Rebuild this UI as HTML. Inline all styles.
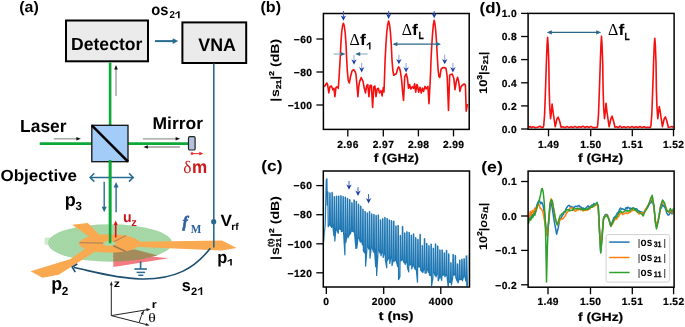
<!DOCTYPE html>
<html><head><meta charset="utf-8"><style>
html,body{margin:0;padding:0;background:#fff;width:685px;height:327px;overflow:hidden;}
svg{display:block;will-change:transform;}
text{text-rendering:geometricPrecision;}
</style></head><body>
<svg width="685" height="327" viewBox="0 0 685 327">
<text x="19.3" y="11.6" font-family='"Liberation Sans", sans-serif' font-size="15.2" font-weight="bold" font-style="normal" fill="#000" text-anchor="start" textLength="19.5" lengthAdjust="spacingAndGlyphs" >(a)</text>
<rect x="66" y="20.5" width="82" height="40.8" fill="#ebebeb" stroke="#000" stroke-width="2"/>
<text x="71.1" y="49.6" font-family='"Liberation Sans", sans-serif' font-size="17.6" font-weight="bold" font-style="normal" fill="#000" text-anchor="start" textLength="71.2" lengthAdjust="spacingAndGlyphs" >Detector</text>
<rect x="182.4" y="22.4" width="63.8" height="40.6" fill="#ebebeb" stroke="#000" stroke-width="2"/>
<text x="198.3" y="50.7" font-family='"Liberation Sans", sans-serif' font-size="18" font-weight="bold" font-style="normal" fill="#000" text-anchor="start" textLength="37.6" lengthAdjust="spacingAndGlyphs" >VNA</text>
<text x="151.3" y="15.2" font-family='"Liberation Sans", sans-serif' font-size="15.6" font-weight="bold" font-style="normal" fill="#000" text-anchor="start" textLength="17.2" lengthAdjust="spacingAndGlyphs" >os</text>
<text x="169.4" y="18.3" font-family='"Liberation Sans", sans-serif' font-size="10.2" font-weight="bold" font-style="normal" fill="#000" text-anchor="start" textLength="5.4" lengthAdjust="spacingAndGlyphs" >2</text>
<polygon points="178.06,18.30 179.60,18.30 179.60,11.20 178.47,11.20 175.30,13.34 175.30,14.53 178.06,12.85" fill="#000"/>
<line x1="155" y1="41.1" x2="174.35" y2="41.1" stroke="#276b91" stroke-width="2" />
<polygon points="178.20,41.10 172.70,43.90 172.70,38.30" fill="#276b91"/>
<line x1="110.1" y1="62.5" x2="110.1" y2="125" stroke="#0ca83a" stroke-width="2.6" />
<line x1="110.1" y1="162" x2="110.1" y2="243" stroke="#0ca83a" stroke-width="2.6" />
<line x1="116" y1="96" x2="116.0" y2="68.15" stroke="#9a9a9a" stroke-width="1.3" />
<polygon points="116.00,65.00 117.80,69.50 114.20,69.50" fill="#111"/>
<line x1="39.7" y1="143.65" x2="92" y2="143.65" stroke="#0ca83a" stroke-width="2.7" />
<line x1="128" y1="143.65" x2="188.5" y2="143.65" stroke="#0ca83a" stroke-width="2.7" />
<rect x="91.8" y="125.3" width="36.2" height="36.4" fill="#a3cdf8" stroke="#111" stroke-width="1.3"/>
<line x1="91.8" y1="125.3" x2="128" y2="161.7" stroke="#000" stroke-width="2.6" />
<line x1="53.8" y1="138.8" x2="77.75" y2="138.8" stroke="#9a9a9a" stroke-width="1.3" />
<polygon points="80.90,138.80 76.40,140.60 76.40,137.00" fill="#111"/>
<line x1="143" y1="138.8" x2="176.95" y2="138.8" stroke="#9a9a9a" stroke-width="1.3" />
<polygon points="180.10,138.80 175.60,140.60 175.60,137.00" fill="#111"/>
<line x1="180.1" y1="147" x2="146.55" y2="147.0" stroke="#9a9a9a" stroke-width="1.3" />
<polygon points="143.40,147.00 147.90,145.20 147.90,148.80" fill="#111"/>
<rect x="188.5" y="136.7" width="6.6" height="13.3" rx="1.3" fill="#b3c3dd" stroke="#222" stroke-width="1.2"/>
<text x="20.1" y="132.4" font-family='"Liberation Sans", sans-serif' font-size="17.6" font-weight="bold" font-style="normal" fill="#000" text-anchor="start" textLength="46.5" lengthAdjust="spacingAndGlyphs" >Laser</text>
<text x="152.5" y="128.9" font-family='"Liberation Sans", sans-serif' font-size="17.2" font-weight="bold" font-style="normal" fill="#000" text-anchor="start" textLength="50.5" lengthAdjust="spacingAndGlyphs" >Mirror</text>
<text x="183.3" y="172.6" font-family='"Liberation Serif", serif' font-size="17.5" font-weight="normal" font-style="normal" fill="#cc1a1a" text-anchor="start" textLength="8.2" lengthAdjust="spacingAndGlyphs" >&#948;</text>
<text x="191.9" y="172.5" font-family='"Liberation Sans", sans-serif' font-size="18" font-weight="bold" font-style="normal" fill="#cc1a1a" text-anchor="start" textLength="15.2" lengthAdjust="spacingAndGlyphs" >m</text>
<line x1="192" y1="153.6" x2="200.5" y2="153.6" stroke="#ec2a2a" stroke-width="1.0" />
<polygon points="203.30,153.60 199.30,155.40 199.30,151.80" fill="#ec2a2a"/>
<circle cx="192" cy="153.6" r="1.4" fill="#ec2a2a"/>
<circle cx="213.7" cy="221.7" r="2.6" fill="#276b91"/>
<text x="220.5" y="226.2" font-family='"Liberation Sans", sans-serif' font-size="16.5" font-weight="bold" font-style="normal" fill="#000" text-anchor="start" textLength="11.5" lengthAdjust="spacingAndGlyphs" >V</text>
<text x="231.2" y="229.6" font-family='"Liberation Sans", sans-serif' font-size="10" font-weight="bold" font-style="normal" fill="#000" text-anchor="start" textLength="7.4" lengthAdjust="spacingAndGlyphs" >rf</text>
<text x="182.6" y="227.4" font-family='"Liberation Serif", serif' font-size="15.8" font-weight="bold" font-style="italic" fill="#2b5fa0" text-anchor="start" stroke="#2b5fa0" stroke-width="0.6">f</text>
<text x="190.7" y="233.1" font-family='"Liberation Serif", serif' font-size="12.4" font-weight="bold" font-style="normal" fill="#2b5fa0" text-anchor="start" textLength="10.6" lengthAdjust="spacingAndGlyphs" >M</text>
<text x="0.5" y="180.6" font-family='"Liberation Sans", sans-serif' font-size="16.3" font-weight="bold" font-style="normal" fill="#000" text-anchor="start" textLength="76.6" lengthAdjust="spacingAndGlyphs" >Objective</text>
<line x1="90.3" y1="177.4" x2="133" y2="177.4" stroke="#276b91" stroke-width="1.5" />
<polyline points="94.30,173.20 90.1,177.4 94.30,181.60" fill="none" stroke="#276b91" stroke-width="1.5"/>
<polyline points="129.00,181.60 133.2,177.4 129.00,173.20" fill="none" stroke="#276b91" stroke-width="1.5"/>
<line x1="104.2" y1="181.7" x2="104.2" y2="208.45000000000002" stroke="#276b91" stroke-width="1.4" />
<polygon points="104.20,212.30 101.70,206.80 106.70,206.80" fill="#276b91"/>
<line x1="116.1" y1="212.3" x2="116.1" y2="185.85" stroke="#276b91" stroke-width="1.4" />
<polygon points="116.10,182.00 118.60,187.50 113.60,187.50" fill="#276b91"/>
<text x="64.8" y="206" font-family='"Liberation Sans", sans-serif' font-size="18.5" font-weight="bold" font-style="normal" fill="#000" text-anchor="start" textLength="11" lengthAdjust="spacingAndGlyphs" >p</text>
<text x="75.6" y="210.2" font-family='"Liberation Sans", sans-serif' font-size="12" font-weight="bold" font-style="normal" fill="#000" text-anchor="start" textLength="6.4" lengthAdjust="spacingAndGlyphs" >3</text>
<defs><clipPath id="ell"><ellipse cx="110" cy="243" rx="62" ry="18.8"/></clipPath></defs>
<pattern id="hatch" patternUnits="userSpaceOnUse" width="2.4" height="2.4" patternTransform="rotate(-35)"><rect width="2.4" height="2.4" fill="#a8d9a8"/><rect width="0.8" height="2.4" fill="#a0d3a1"/></pattern>
<rect x="44.5" y="237.5" width="8" height="7.5" rx="2" fill="#cfeacf"/>
<ellipse cx="110" cy="243" rx="62" ry="18.8" fill="url(#hatch)"/>
<polygon points="72.2,224.8 87.8,223 99.5,235 91,238" fill="#f9a94f"/>
<polygon points="30.6,271.2 42.4,277.8 58.8,274.7 96,251 86,248 70.6,259" fill="#f9a94f"/>
<polygon points="139,241.8 222,240.6 236.7,248 222,250.6 139,247" fill="#f9a94f"/>
<polygon points="113.4,252.6 168.7,258.3 113.4,267" fill="#f27a80"/>
<polygon points="113.4,250 135,249.5 168.7,258.3 113.4,267" fill="#a38b5c" clip-path="url(#ell)"/>
<ellipse cx="109.5" cy="243.4" rx="30.5" ry="9.2" fill="#f9a94f"/>
<line x1="79.5" y1="242.6" x2="105" y2="243.2" stroke="#b8865a" stroke-width="1.2" />
<line x1="114" y1="241.6" x2="126" y2="235.5" stroke="#b8865a" stroke-width="1.2" />
<line x1="113" y1="245.5" x2="125.6" y2="251.5" stroke="#9c7a52" stroke-width="1.5" />
<ellipse cx="109.4" cy="243.5" rx="6.4" ry="2.5" fill="#a9d9a3"/>
<line x1="110.1" y1="160" x2="110.1" y2="243.2" stroke="#0ca83a" stroke-width="2.6" />
<line x1="115.7" y1="237.5" x2="115.7" y2="223.65" stroke="#e01010" stroke-width="1.6" />
<polygon points="115.70,220.50 117.70,225.00 113.70,225.00" fill="#e01010"/>
<text x="123" y="222.1" font-family='"Liberation Sans", sans-serif' font-size="14.6" font-weight="bold" font-style="normal" fill="#c8161d" text-anchor="start" textLength="8.6" lengthAdjust="spacingAndGlyphs" >u</text>
<text x="131.3" y="226.3" font-family='"Liberation Sans", sans-serif' font-size="11" font-weight="bold" font-style="normal" fill="#c8161d" text-anchor="start" textLength="5.6" lengthAdjust="spacingAndGlyphs" >z</text>
<line x1="140.6" y1="261.5" x2="140.6" y2="269" stroke="#276b91" stroke-width="1.6" />
<line x1="134.4" y1="269" x2="146.9" y2="269" stroke="#276b91" stroke-width="1.6" />
<line x1="136.6" y1="272.4" x2="145.1" y2="272.4" stroke="#276b91" stroke-width="1.5" />
<line x1="138.3" y1="275.3" x2="143.4" y2="275.3" stroke="#276b91" stroke-width="1.5" />
<line x1="213.8" y1="63.5" x2="213.8" y2="247.5" stroke="#276b91" stroke-width="1.6" />
<path d="M210.3,248.2 C195,268 175,280 140,279 C115,278 95,272 74,267.5" fill="none" stroke="#1d4f6f" stroke-width="1.6"/>
<polyline points="77.29,263.94 72.2,267 75.26,272.09" fill="none" stroke="#1d4f6f" stroke-width="1.6"/>
<text x="217.2" y="262.5" font-family='"Liberation Sans", sans-serif' font-size="17" font-weight="bold" font-style="normal" fill="#000" text-anchor="start" textLength="10" lengthAdjust="spacingAndGlyphs" >p</text>
<polygon points="230.26,265.40 231.80,265.40 231.80,258.90 230.67,258.90 227.50,260.86 227.50,261.95 230.26,260.41" fill="#000"/>
<text x="51.3" y="290.3" font-family='"Liberation Sans", sans-serif' font-size="18.5" font-weight="bold" font-style="normal" fill="#000" text-anchor="start" textLength="10.9" lengthAdjust="spacingAndGlyphs" >p</text>
<text x="61.7" y="294.5" font-family='"Liberation Sans", sans-serif' font-size="11.7" font-weight="bold" font-style="normal" fill="#000" text-anchor="start" textLength="6.6" lengthAdjust="spacingAndGlyphs" >2</text>
<text x="181.7" y="290.5" font-family='"Liberation Sans", sans-serif' font-size="16.5" font-weight="bold" font-style="normal" fill="#000" text-anchor="start" textLength="9" lengthAdjust="spacingAndGlyphs" >s</text>
<text x="191" y="294.9" font-family='"Liberation Sans", sans-serif' font-size="10.6" font-weight="bold" font-style="normal" fill="#000" text-anchor="start" textLength="6.2" lengthAdjust="spacingAndGlyphs" >2</text>
<polygon points="200.66,294.90 202.20,294.90 202.20,287.30 201.07,287.30 197.90,289.59 197.90,290.87 200.66,289.06" fill="#000"/>
<line x1="111.3" y1="315.6" x2="111.3" y2="284.1" stroke="#222" stroke-width="1.0" />
<polygon points="111.30,281.30 112.80,285.30 109.80,285.30" fill="#222"/>
<line x1="111.3" y1="315.6" x2="147.7365879338281" y2="309.65116931692603" stroke="#222" stroke-width="1.0" />
<polygon points="150.50,309.20 146.79,311.32 146.31,308.36" fill="#222"/>
<line x1="111.3" y1="315.6" x2="146.98695836156662" y2="324.70760916519146" stroke="#222" stroke-width="1.0" />
<polygon points="149.70,325.40 145.45,325.86 146.20,322.96" fill="#222"/>
<path d="M139.2,322.3 Q141,316 143.6,311" fill="none" stroke="#222" stroke-width="1"/>
<polygon points="143.60,311.00 143.38,314.80 140.69,313.46" fill="#222"/>
<text x="113.8" y="286.6" font-family='"Liberation Sans", sans-serif' font-size="10.5" font-weight="bold" font-style="normal" fill="#000" text-anchor="start" textLength="6.2" lengthAdjust="spacingAndGlyphs" >z</text>
<text x="151.7" y="307.6" font-family='"Liberation Sans", sans-serif' font-size="11" font-weight="bold" font-style="normal" fill="#000" text-anchor="start" textLength="5" lengthAdjust="spacingAndGlyphs" >r</text>
<text x="148.3" y="322.2" font-family='"Liberation Serif", serif' font-size="13" font-weight="normal" font-style="normal" fill="#000" text-anchor="start" textLength="7.5" lengthAdjust="spacingAndGlyphs" >&#952;</text>
<text x="260.5" y="11.7" font-family='"Liberation Sans", sans-serif' font-size="15.2" font-weight="bold" font-style="normal" fill="#000" text-anchor="start" textLength="20.6" lengthAdjust="spacingAndGlyphs" >(b)</text>
<polyline points="324.20,86.80 325.30,85.20 326.80,83.00 327.60,84.50 328.80,92.90 329.90,86.80 331.40,86.00 332.90,89.80 334.00,88.30 334.90,96.70 336.00,87.50 337.00,86.80 338.30,88.30 339.00,78.30 339.60,68.00 340.10,60.00 340.90,43.60 341.60,33.00 342.50,26.00 343.40,23.20 344.30,26.00 345.20,33.00 346.00,43.60 346.70,60.00 347.40,72.00 348.20,79.90 349.30,83.00 350.50,76.80 352.00,71.00 353.60,69.50 355.00,71.50 355.90,73.80 356.90,85.00 357.90,96.70 358.80,86.00 359.70,81.40 361.20,77.60 363.00,81.40 364.30,88.30 365.50,92.90 366.60,86.00 367.80,84.50 368.90,96.70 370.10,85.20 371.40,85.20 372.60,107.40 373.80,86.80 374.90,86.00 376.00,96.70 377.20,89.00 378.40,88.30 379.50,92.90 381.00,90.60 382.10,95.90 383.30,87.50 384.00,92.00 384.60,75.00 385.10,60.00 385.90,45.00 386.70,33.00 387.60,25.00 388.60,21.00 389.60,25.00 390.50,33.00 391.30,45.00 392.00,60.00 392.80,70.00 393.70,75.30 394.80,74.50 396.30,73.80 397.50,69.00 398.60,66.90 399.60,68.50 400.40,71.50 401.60,79.90 402.60,92.00 403.50,100.50 404.20,88.00 404.70,76.80 406.20,73.80 407.40,78.30 408.50,88.30 409.60,84.50 410.80,89.00 412.30,86.80 413.60,88.30 414.60,83.70 415.70,92.10 416.90,84.50 417.50,85.60 418.60,92.20 420.00,87.20 421.30,93.00 422.40,88.10 423.60,91.40 424.90,86.40 426.20,88.90 427.90,86.40 429.00,103.80 429.90,86.40 430.50,75.00 431.00,60.00 431.80,45.00 432.60,33.00 433.30,25.00 434.20,20.20 435.10,25.00 435.90,33.00 436.70,45.00 437.50,60.00 438.10,70.00 438.90,76.50 439.80,77.30 441.10,69.10 442.50,67.80 443.90,67.40 446.00,68.30 447.20,76.50 447.90,95.00 448.50,110.40 449.10,92.00 449.70,74.90 452.20,74.00 453.80,78.20 455.00,89.70 456.30,81.50 457.60,77.30 458.80,82.30 459.90,91.40 461.20,86.40 462.90,84.80 464.20,84.00 465.40,84.80 466.20,111.20 467.50,104.00" fill="none" stroke="#f50f0f" stroke-width="1.6" stroke-linejoin="round" />
<rect x="323.4" y="13.5" width="145.8" height="115.9" fill="none" stroke="#000" stroke-width="1.5"/>
<line x1="316.4" y1="39" x2="323.4" y2="39" stroke="#000" stroke-width="1.3" />
<text x="293.66" y="42.75" font-family='"Liberation Sans", sans-serif' font-size="10.25" font-weight="bold" font-style="normal" fill="#000" text-anchor="start" textLength="18.34" lengthAdjust="spacing" stroke="#000" stroke-width="0.22">&#8722;60</text>
<line x1="316.4" y1="72" x2="323.4" y2="72" stroke="#000" stroke-width="1.3" />
<text x="293.66" y="75.75" font-family='"Liberation Sans", sans-serif' font-size="10.25" font-weight="bold" font-style="normal" fill="#000" text-anchor="start" textLength="18.34" lengthAdjust="spacing" stroke="#000" stroke-width="0.22">&#8722;80</text>
<line x1="316.4" y1="105" x2="323.4" y2="105" stroke="#000" stroke-width="1.3" />
<text x="287.64" y="108.75" font-family='"Liberation Sans", sans-serif' font-size="10.25" font-weight="bold" font-style="normal" fill="#000" text-anchor="start" textLength="24.36" lengthAdjust="spacing" stroke="#000" stroke-width="0.22">&#8722;100</text>
<line x1="347.8" y1="129.4" x2="347.8" y2="136.4" stroke="#000" stroke-width="1.3" />
<text x="337.28" y="147.70000000000002" font-family='"Liberation Sans", sans-serif' font-size="10.25" font-weight="bold" font-style="normal" fill="#000" text-anchor="start" textLength="21.05" lengthAdjust="spacing" stroke="#000" stroke-width="0.22">2.96</text>
<line x1="383.3" y1="129.4" x2="383.3" y2="136.4" stroke="#000" stroke-width="1.3" />
<text x="372.78" y="147.70000000000002" font-family='"Liberation Sans", sans-serif' font-size="10.25" font-weight="bold" font-style="normal" fill="#000" text-anchor="start" textLength="21.05" lengthAdjust="spacing" stroke="#000" stroke-width="0.22">2.97</text>
<line x1="418.4" y1="129.4" x2="418.4" y2="136.4" stroke="#000" stroke-width="1.3" />
<text x="407.88" y="147.70000000000002" font-family='"Liberation Sans", sans-serif' font-size="10.25" font-weight="bold" font-style="normal" fill="#000" text-anchor="start" textLength="21.05" lengthAdjust="spacing" stroke="#000" stroke-width="0.22">2.98</text>
<line x1="453.5" y1="129.4" x2="453.5" y2="136.4" stroke="#000" stroke-width="1.3" />
<text x="442.98" y="147.70000000000002" font-family='"Liberation Sans", sans-serif' font-size="10.25" font-weight="bold" font-style="normal" fill="#000" text-anchor="start" textLength="21.05" lengthAdjust="spacing" stroke="#000" stroke-width="0.22">2.99</text>
<text x="373.69" y="162.3" font-family='"Liberation Sans", sans-serif' font-size="12" font-weight="bold" font-style="normal" fill="#000" text-anchor="start" textLength="45.22" lengthAdjust="spacingAndGlyphs" stroke="#000" stroke-width="0.22">f (GHz)</text>
<g transform="translate(278.8,70.3) rotate(-90) scale(1.2,1)">
<text x="0" y="0" font-family='"Liberation Sans", sans-serif' font-size="11.8" font-weight="bold" font-style="normal" fill="#000" text-anchor="middle" >|<tspan dx="0.8">s</tspan><tspan font-size="7" dy="2.4" stroke="#000" stroke-width="0.3">21</tspan><tspan dy="-2.4">|</tspan><tspan font-size="7" dy="-5.2" stroke="#000" stroke-width="0.3">2</tspan><tspan dy="5.2"> (dB)</tspan></text>
</g>
<line x1="343.4" y1="11" x2="343.4" y2="17.02" stroke="#3a5cb8" stroke-width="1.0" />
<polygon points="343.40,20.80 340.70,15.40 343.40,17.02 346.10,15.40" fill="#1b3fa6"/>
<line x1="388.6" y1="11" x2="388.6" y2="15.22" stroke="#3a5cb8" stroke-width="1.0" />
<polygon points="388.60,19.00 385.90,13.60 388.60,15.22 391.30,13.60" fill="#1b3fa6"/>
<line x1="434.2" y1="11" x2="434.2" y2="14.520000000000001" stroke="#3a5cb8" stroke-width="1.0" />
<polygon points="434.20,18.30 431.50,12.90 434.20,14.52 436.90,12.90" fill="#1b3fa6"/>
<line x1="354" y1="55.1" x2="354.0" y2="60.92" stroke="#8fa3d6" stroke-width="1.0" />
<polygon points="354.00,64.70 351.30,59.30 354.00,60.92 356.70,59.30" fill="#1b3fa6"/>
<line x1="361.7" y1="62.9" x2="361.7" y2="68.72" stroke="#8fa3d6" stroke-width="1.0" />
<polygon points="361.70,72.50 359.00,67.10 361.70,68.72 364.40,67.10" fill="#1b3fa6"/>
<line x1="398.9" y1="54.7" x2="398.9" y2="60.519999999999996" stroke="#8fa3d6" stroke-width="1.0" />
<polygon points="398.90,64.30 396.20,58.90 398.90,60.52 401.60,58.90" fill="#1b3fa6"/>
<line x1="406.1" y1="62.9" x2="406.1" y2="68.72" stroke="#8fa3d6" stroke-width="1.0" />
<polygon points="406.10,72.50 403.40,67.10 406.10,68.72 408.80,67.10" fill="#1b3fa6"/>
<line x1="444.7" y1="54.7" x2="444.7" y2="60.519999999999996" stroke="#8fa3d6" stroke-width="1.0" />
<polygon points="444.70,64.30 442.00,58.90 444.70,60.52 447.40,58.90" fill="#1b3fa6"/>
<line x1="452.9" y1="63" x2="452.9" y2="68.72" stroke="#8fa3d6" stroke-width="1.0" />
<polygon points="452.90,72.50 450.20,67.10 452.90,68.72 455.60,67.10" fill="#1b3fa6"/>
<line x1="333.7" y1="54" x2="342.1" y2="54.0" stroke="#93b2c4" stroke-width="1.2" />
<polygon points="345.60,54.00 340.60,56.10 340.60,51.90" fill="#2a6788"/>
<line x1="367.6" y1="54" x2="358.7" y2="54.0" stroke="#93b2c4" stroke-width="1.2" />
<polygon points="355.20,54.00 360.20,51.90 360.20,56.10" fill="#2a6788"/>
<text x="349.6" y="45.2" font-family='"Liberation Serif", serif' font-size="16.8" font-weight="normal" font-style="normal" fill="#000" text-anchor="start" textLength="10.3" lengthAdjust="spacingAndGlyphs" >&#916;</text>
<text x="360" y="45.2" font-family='"Liberation Sans", sans-serif' font-size="15.5" font-weight="bold" font-style="normal" fill="#000" text-anchor="start" textLength="5.9" lengthAdjust="spacingAndGlyphs" >f</text>
<polygon points="369.14,49.50 370.50,49.50 370.50,42.20 369.50,42.20 366.70,44.40 366.70,45.63 369.14,43.89" fill="#000"/>
<line x1="394" y1="44.2" x2="439.5" y2="44.2" stroke="#2a6788" stroke-width="1.3" />
<polygon points="392.40,44.20 397.40,42.10 397.40,46.30" fill="#2a6788"/>
<polygon points="441.00,44.20 436.00,46.30 436.00,42.10" fill="#2a6788"/>
<text x="401.7" y="34.8" font-family='"Liberation Serif", serif' font-size="16.8" font-weight="normal" font-style="normal" fill="#000" text-anchor="start" textLength="10.3" lengthAdjust="spacingAndGlyphs" >&#916;</text>
<text x="412.1" y="34.8" font-family='"Liberation Sans", sans-serif' font-size="15.5" font-weight="bold" font-style="normal" fill="#000" text-anchor="start" textLength="5.9" lengthAdjust="spacingAndGlyphs" >f</text>
<text x="418.4" y="38.8" font-family='"Liberation Sans", sans-serif' font-size="10.2" font-weight="bold" font-style="normal" fill="#000" text-anchor="start" textLength="5.2" lengthAdjust="spacingAndGlyphs" stroke="#000" stroke-width="0.3">L</text>
<text x="261.3" y="170.5" font-family='"Liberation Sans", sans-serif' font-size="15.2" font-weight="bold" font-style="normal" fill="#000" text-anchor="start" textLength="21.2" lengthAdjust="spacingAndGlyphs" >(c)</text>
<clipPath id="cclip"><rect x="324.2" y="171.5" width="144" height="115"/></clipPath>
<polyline points="323.60,242.00 325.20,224.00 326.30,180.00 326.90,178.70 327.30,205.00 327.60,191.72 327.90,192.12 328.20,226.67 329.50,224.70 329.80,192.82 330.10,193.22 330.40,225.10 331.70,227.33 332.00,192.41 332.30,192.81 332.60,223.48 333.90,235.68 334.20,196.52 334.50,196.92 334.80,241.00 336.10,226.96 336.40,196.03 336.70,196.43 337.00,230.18 338.30,233.32 338.60,196.08 338.90,196.48 339.20,228.95 340.50,229.39 340.80,195.55 341.10,195.95 341.40,231.62 342.70,230.98 343.00,196.54 343.30,196.94 343.60,232.80 344.90,254.82 345.20,197.14 345.50,197.54 345.80,242.56 347.10,233.39 347.40,198.40 347.70,198.80 348.00,237.85 349.30,234.72 349.60,199.57 349.90,199.97 350.20,234.00 351.50,230.56 351.80,202.71 352.10,203.11 352.40,231.27 353.70,231.96 354.00,199.84 354.30,200.24 354.60,233.51 355.90,248.38 356.20,201.46 356.50,201.86 356.80,248.17 358.10,236.56 358.40,204.21 358.70,204.61 359.00,237.56 360.30,242.16 360.60,206.13 360.90,206.53 361.20,239.61 362.50,244.94 362.80,209.14 363.10,209.54 363.40,250.84 364.70,252.83 365.00,211.35 365.30,211.75 365.60,266.04 366.90,249.47 367.20,212.97 367.50,213.37 367.80,246.33 369.10,249.45 369.40,211.51 369.70,211.91 370.00,258.19 371.30,246.79 371.60,213.97 371.90,214.37 372.20,247.37 373.50,252.09 373.80,214.46 374.10,214.86 374.40,247.84 375.70,266.74 376.00,215.45 376.30,215.85 376.60,275.44 377.90,254.64 378.20,214.93 378.50,215.33 378.80,249.67 380.10,253.22 380.40,219.84 380.70,220.24 381.00,255.79 382.30,250.96 382.60,218.71 382.90,219.11 383.20,257.48 384.50,252.49 384.80,217.38 385.10,217.78 385.40,260.08 386.70,267.75 387.00,218.48 387.30,218.88 387.60,260.32 388.90,257.58 389.20,219.95 389.50,220.35 389.80,263.43 391.10,256.15 391.40,220.71 391.70,221.11 392.00,265.53 393.30,259.76 393.60,221.18 393.90,221.58 394.20,261.18 395.50,260.31 395.80,226.00 396.10,226.40 396.40,261.29 397.70,266.71 398.00,225.33 398.30,225.73 398.60,279.57 399.90,276.75 400.20,235.29 400.50,235.69 400.80,260.99 402.10,259.05 402.40,226.30 402.70,226.70 403.00,260.46 404.30,262.88 404.60,232.87 404.90,233.27 405.20,264.54 406.50,261.53 406.80,231.70 407.10,232.10 407.40,267.06 408.70,271.92 409.00,232.26 409.30,232.66 409.60,265.17 410.90,264.17 411.20,235.02 411.50,235.42 411.80,268.92 413.10,263.92 413.40,233.83 413.70,234.23 414.00,266.51 415.30,269.40 415.60,237.69 415.90,238.09 416.20,268.23 417.50,282.07 417.80,239.26 418.10,239.66 418.40,266.90 419.70,266.97 420.00,234.28 420.30,234.68 420.60,270.05 421.90,271.70 422.20,245.50 422.50,245.90 422.80,272.69 424.10,267.98 424.40,238.56 424.70,238.96 425.00,273.08 426.30,272.90 426.60,243.42 426.90,243.82 427.20,268.76 428.50,272.46 428.80,245.69 429.10,246.09 429.40,274.97 430.70,275.61 431.00,244.05 431.30,244.45 431.60,285.74 432.90,277.79 433.20,248.10 433.50,248.50 433.80,271.63 435.10,275.54 435.40,243.98 435.70,244.38 436.00,276.84 437.30,272.92 437.60,246.00 437.90,246.40 438.20,280.65 439.50,277.61 439.80,249.88 440.10,250.28 440.40,276.43 441.70,280.39 442.00,249.77 442.30,250.17 442.60,275.57 443.90,274.58 444.20,252.83 444.50,253.23 444.80,276.73 446.10,274.95 446.40,250.32 446.70,250.72 447.00,275.91 448.30,287.50 448.60,253.94 448.90,254.34 449.20,282.34 450.50,282.34 450.80,262.71 451.10,263.11 451.40,284.92 452.70,277.39 453.00,254.39 453.30,254.79 453.60,275.19 454.90,274.78 455.20,255.47 455.50,255.87 455.80,277.34 457.10,281.17 457.40,263.82 457.70,264.22 458.00,282.91 459.30,278.65 459.60,260.06 459.90,260.46 460.20,279.52 461.50,279.29 461.80,259.22 462.10,259.62 462.40,280.77 463.70,275.89 464.00,258.64 464.30,259.04 464.60,275.40 465.90,281.08 466.20,255.87 466.50,256.27 466.80,287.50 468.10,281.66 468.40,255.15 468.70,255.55 469.00,277.78 470.30,282.34" fill="none" stroke="#1f77b4" stroke-width="1.25" stroke-linejoin="round" clip-path="url(#cclip)" stroke-linejoin="miter"/>
<rect x="323.3" y="171" width="146.2" height="116" fill="none" stroke="#000" stroke-width="1.5"/>
<line x1="316.3" y1="185.6" x2="323.3" y2="185.6" stroke="#000" stroke-width="1.3" />
<text x="293.56" y="189.35" font-family='"Liberation Sans", sans-serif' font-size="10.25" font-weight="bold" font-style="normal" fill="#000" text-anchor="start" textLength="18.34" lengthAdjust="spacing" stroke="#000" stroke-width="0.22">&#8722;60</text>
<line x1="316.3" y1="214.7" x2="323.3" y2="214.7" stroke="#000" stroke-width="1.3" />
<text x="293.56" y="218.45" font-family='"Liberation Sans", sans-serif' font-size="10.25" font-weight="bold" font-style="normal" fill="#000" text-anchor="start" textLength="18.34" lengthAdjust="spacing" stroke="#000" stroke-width="0.22">&#8722;80</text>
<line x1="316.3" y1="243.8" x2="323.3" y2="243.8" stroke="#000" stroke-width="1.3" />
<text x="287.54" y="247.55" font-family='"Liberation Sans", sans-serif' font-size="10.25" font-weight="bold" font-style="normal" fill="#000" text-anchor="start" textLength="24.36" lengthAdjust="spacing" stroke="#000" stroke-width="0.22">&#8722;100</text>
<line x1="316.3" y1="272.8" x2="323.3" y2="272.8" stroke="#000" stroke-width="1.3" />
<text x="287.54" y="276.55" font-family='"Liberation Sans", sans-serif' font-size="10.25" font-weight="bold" font-style="normal" fill="#000" text-anchor="start" textLength="24.36" lengthAdjust="spacing" stroke="#000" stroke-width="0.22">&#8722;120</text>
<line x1="326.3" y1="287" x2="326.3" y2="294" stroke="#000" stroke-width="1.3" />
<text x="323.29" y="305.4" font-family='"Liberation Sans", sans-serif' font-size="10.25" font-weight="bold" font-style="normal" fill="#000" text-anchor="start" textLength="6.01" lengthAdjust="spacing" stroke="#000" stroke-width="0.22">0</text>
<line x1="383.7" y1="287" x2="383.7" y2="294" stroke="#000" stroke-width="1.3" />
<text x="371.67" y="305.4" font-family='"Liberation Sans", sans-serif' font-size="10.25" font-weight="bold" font-style="normal" fill="#000" text-anchor="start" textLength="24.06" lengthAdjust="spacing" stroke="#000" stroke-width="0.22">2000</text>
<line x1="440.8" y1="287" x2="440.8" y2="294" stroke="#000" stroke-width="1.3" />
<text x="428.77" y="305.4" font-family='"Liberation Sans", sans-serif' font-size="10.25" font-weight="bold" font-style="normal" fill="#000" text-anchor="start" textLength="24.06" lengthAdjust="spacing" stroke="#000" stroke-width="0.22">4000</text>
<text x="378.81" y="319.5" font-family='"Liberation Sans", sans-serif' font-size="12.2" font-weight="bold" font-style="normal" fill="#000" text-anchor="start" textLength="34.59" lengthAdjust="spacingAndGlyphs" stroke="#000" stroke-width="0.22">t (ns)</text>
<line x1="349" y1="181" x2="349.0" y2="186.02" stroke="#3a5cb8" stroke-width="1.0" />
<polygon points="349.00,189.80 346.30,184.40 349.00,186.02 351.70,184.40" fill="#1b3fa6"/>
<line x1="358" y1="187.2" x2="358.0" y2="192.22" stroke="#3a5cb8" stroke-width="1.0" />
<polygon points="358.00,196.00 355.30,190.60 358.00,192.22 360.70,190.60" fill="#1b3fa6"/>
<line x1="368.6" y1="194" x2="368.6" y2="199.72" stroke="#3a5cb8" stroke-width="1.0" />
<polygon points="368.60,203.50 365.90,198.10 368.60,199.72 371.30,198.10" fill="#1b3fa6"/>
<g transform="translate(278.8,228) rotate(-90) scale(1.2,1)">
<text x="0" y="0" font-family='"Liberation Sans", sans-serif' font-size="11.8" font-weight="bold" font-style="normal" fill="#000" text-anchor="middle" >|<tspan dx="0.8">s</tspan><tspan font-size="7" dy="2.4" stroke="#000" stroke-width="0.3">21</tspan><tspan font-size="7" dx="-7.6" dy="-8.4" stroke="#000" stroke-width="0.3">(t)</tspan><tspan dx="1.4" dy="6">|</tspan><tspan font-size="7" dy="-5.2" stroke="#000" stroke-width="0.3">2</tspan><tspan dy="5.2"> (dB)</tspan></text>
</g>
<text x="479.6" y="13" font-family='"Liberation Sans", sans-serif' font-size="15.2" font-weight="bold" font-style="normal" fill="#000" text-anchor="start" textLength="21.6" lengthAdjust="spacingAndGlyphs" >(d)</text>
<polyline points="528.80,127.30 530.00,126.50 531.50,127.60 533.00,126.80 535.00,127.60 537.50,127.30 540.00,126.20 541.50,127.40 543.10,127.40 543.70,126.00 544.60,114.50 545.50,90.00 546.40,62.00 547.10,44.00 547.60,37.40 548.10,44.00 548.80,62.00 549.20,90.00 549.80,108.00 550.60,118.70 551.40,112.00 552.10,104.00 553.10,112.00 555.20,126.70 557.00,118.70 558.20,117.20 559.60,121.00 561.10,127.30 562.50,126.80 565.00,127.60 567.00,126.50 569.00,127.60 571.00,126.80 573.00,127.50 575.00,126.40 577.00,127.60 579.00,126.70 581.00,127.30 583.00,126.20 585.00,127.50 587.00,126.60 589.00,127.50 591.00,126.40 593.00,127.60 597.00,127.40 597.60,126.00 598.50,114.50 599.40,90.00 600.30,62.00 601.00,44.00 601.50,36.30 602.00,44.00 602.70,62.00 603.10,90.00 603.70,108.00 604.50,118.70 605.30,112.00 606.00,103.20 607.00,112.00 609.10,126.70 610.90,118.70 612.10,116.20 613.50,121.00 615.00,127.30 616.50,126.80 618.50,127.60 620.00,126.00 622.00,127.60 624.00,126.80 626.00,127.60 628.00,126.60 630.00,127.60 632.00,126.50 634.00,127.60 636.00,126.70 638.00,127.50 640.00,126.50 642.00,127.60 644.00,126.80 646.00,127.60 648.00,127.30 650.30,127.40 650.90,126.00 651.80,114.50 652.70,90.00 653.60,62.00 654.30,44.00 654.80,38.30 655.30,44.00 656.00,62.00 656.40,90.00 657.00,108.00 657.80,118.70 658.60,112.00 659.30,106.60 660.30,112.00 662.40,126.70 664.20,118.70 665.40,116.90 666.80,121.00 668.30,127.30 670.00,127.00 672.00,126.50 673.50,127.50" fill="none" stroke="#f50f0f" stroke-width="1.6" stroke-linejoin="round" />
<rect x="528.1" y="13.4" width="146.0" height="115.9" fill="none" stroke="#000" stroke-width="1.5"/>
<line x1="521.1" y1="13.4" x2="528.1" y2="13.4" stroke="#000" stroke-width="1.3" />
<text x="501.67" y="17.15" font-family='"Liberation Sans", sans-serif' font-size="10.25" font-weight="bold" font-style="normal" fill="#000" text-anchor="start" textLength="15.03" lengthAdjust="spacing" stroke="#000" stroke-width="0.22">1.0</text>
<line x1="521.1" y1="36.5" x2="528.1" y2="36.5" stroke="#000" stroke-width="1.3" />
<text x="501.67" y="40.25" font-family='"Liberation Sans", sans-serif' font-size="10.25" font-weight="bold" font-style="normal" fill="#000" text-anchor="start" textLength="15.03" lengthAdjust="spacing" stroke="#000" stroke-width="0.22">0.8</text>
<line x1="521.1" y1="59.6" x2="528.1" y2="59.6" stroke="#000" stroke-width="1.3" />
<text x="501.67" y="63.35" font-family='"Liberation Sans", sans-serif' font-size="10.25" font-weight="bold" font-style="normal" fill="#000" text-anchor="start" textLength="15.03" lengthAdjust="spacing" stroke="#000" stroke-width="0.22">0.6</text>
<line x1="521.1" y1="82.8" x2="528.1" y2="82.8" stroke="#000" stroke-width="1.3" />
<text x="501.67" y="86.55" font-family='"Liberation Sans", sans-serif' font-size="10.25" font-weight="bold" font-style="normal" fill="#000" text-anchor="start" textLength="15.03" lengthAdjust="spacing" stroke="#000" stroke-width="0.22">0.4</text>
<line x1="521.1" y1="105.9" x2="528.1" y2="105.9" stroke="#000" stroke-width="1.3" />
<text x="501.67" y="109.65" font-family='"Liberation Sans", sans-serif' font-size="10.25" font-weight="bold" font-style="normal" fill="#000" text-anchor="start" textLength="15.03" lengthAdjust="spacing" stroke="#000" stroke-width="0.22">0.2</text>
<line x1="521.1" y1="129" x2="528.1" y2="129" stroke="#000" stroke-width="1.3" />
<text x="501.67" y="132.75" font-family='"Liberation Sans", sans-serif' font-size="10.25" font-weight="bold" font-style="normal" fill="#000" text-anchor="start" textLength="15.03" lengthAdjust="spacing" stroke="#000" stroke-width="0.22">0.0</text>
<line x1="548.5" y1="129.3" x2="548.5" y2="136.3" stroke="#000" stroke-width="1.3" />
<text x="537.98" y="147.70000000000002" font-family='"Liberation Sans", sans-serif' font-size="10.25" font-weight="bold" font-style="normal" fill="#000" text-anchor="start" textLength="21.05" lengthAdjust="spacing" stroke="#000" stroke-width="0.22">1.49</text>
<line x1="590.7" y1="129.3" x2="590.7" y2="136.3" stroke="#000" stroke-width="1.3" />
<text x="580.18" y="147.70000000000002" font-family='"Liberation Sans", sans-serif' font-size="10.25" font-weight="bold" font-style="normal" fill="#000" text-anchor="start" textLength="21.05" lengthAdjust="spacing" stroke="#000" stroke-width="0.22">1.50</text>
<line x1="632.3" y1="129.3" x2="632.3" y2="136.3" stroke="#000" stroke-width="1.3" />
<text x="621.78" y="147.70000000000002" font-family='"Liberation Sans", sans-serif' font-size="10.25" font-weight="bold" font-style="normal" fill="#000" text-anchor="start" textLength="21.05" lengthAdjust="spacing" stroke="#000" stroke-width="0.22">1.51</text>
<line x1="673.5" y1="129.3" x2="673.5" y2="136.3" stroke="#000" stroke-width="1.3" />
<text x="662.98" y="147.70000000000002" font-family='"Liberation Sans", sans-serif' font-size="10.25" font-weight="bold" font-style="normal" fill="#000" text-anchor="start" textLength="21.05" lengthAdjust="spacing" stroke="#000" stroke-width="0.22">1.52</text>
<text x="577.99" y="162.3" font-family='"Liberation Sans", sans-serif' font-size="12" font-weight="bold" font-style="normal" fill="#000" text-anchor="start" textLength="45.22" lengthAdjust="spacingAndGlyphs" stroke="#000" stroke-width="0.22">f (GHz)</text>
<line x1="548.5" y1="32.4" x2="599.5" y2="32.4" stroke="#2a6788" stroke-width="1.3" />
<polygon points="546.80,32.40 551.80,30.30 551.80,34.50" fill="#2a6788"/>
<polygon points="601.20,32.40 596.20,34.50 596.20,30.30" fill="#2a6788"/>
<text x="608" y="35.1" font-family='"Liberation Serif", serif' font-size="16.8" font-weight="normal" font-style="normal" fill="#000" text-anchor="start" textLength="10.3" lengthAdjust="spacingAndGlyphs" >&#916;</text>
<text x="618.6" y="35.1" font-family='"Liberation Sans", sans-serif' font-size="15.5" font-weight="bold" font-style="normal" fill="#000" text-anchor="start" textLength="5.9" lengthAdjust="spacingAndGlyphs" >f</text>
<text x="624.6" y="39.6" font-family='"Liberation Sans", sans-serif' font-size="10.2" font-weight="bold" font-style="normal" fill="#000" text-anchor="start" textLength="5.2" lengthAdjust="spacingAndGlyphs" stroke="#000" stroke-width="0.3">L</text>
<g transform="translate(486.6,72.8) rotate(-90) scale(1.16,1)">
<text x="0" y="0" font-family='"Liberation Sans", sans-serif' font-size="11.2" font-weight="bold" font-style="normal" fill="#000" text-anchor="middle" >10<tspan font-size="7" dy="-4.2" stroke="#000" stroke-width="0.35">3</tspan><tspan dy="4.2">|</tspan><tspan font-style="italic">s</tspan><tspan font-size="7" dy="1.6" stroke="#000" stroke-width="0.3">21</tspan><tspan dy="-1.6">|</tspan></text>
</g>
<text x="481.2" y="172.3" font-family='"Liberation Sans", sans-serif' font-size="15.2" font-weight="bold" font-style="normal" fill="#000" text-anchor="start" textLength="21.6" lengthAdjust="spacingAndGlyphs" >(e)</text>
<polyline points="528.40,220.20 529.70,217.00 530.70,219.00 531.90,214.50 533.00,216.00 534.20,212.00 535.50,210.50 536.60,206.00 537.60,203.00 538.55,201.12 539.50,200.60 540.70,203.60 541.90,202.40 543.10,205.50 544.40,212.80 546.00,227.20 547.30,236.00 548.80,222.00 550.10,206.00 551.10,202.30 552.40,208.90 553.35,215.41 554.30,221.70 555.45,227.61 556.60,234.20 558.20,228.00 559.70,219.50 560.62,218.55 561.55,217.38 562.48,214.70 563.40,214.60 564.30,211.48 565.20,211.78 566.10,208.42 567.00,207.20 568.25,205.61 569.50,205.40 570.50,207.29 571.50,206.52 572.50,207.20 573.75,207.77 575.00,206.60 576.00,206.34 577.00,206.56 578.00,206.00 579.00,205.42 580.00,207.02 581.00,207.00 582.00,208.46 583.00,208.06 584.00,208.50 585.00,208.63 586.00,207.95 587.00,207.00 588.00,205.70 589.00,207.34 590.00,206.50 591.00,206.24 592.00,204.98 593.00,205.00 594.00,203.53 595.00,204.50 596.00,204.60 597.00,202.80 598.30,208.00 599.30,228.00 600.70,252.00 602.00,236.00 603.50,217.50 604.50,215.93 605.50,214.50 607.20,214.50 609.00,219.00 610.80,225.00 612.50,221.50 613.90,217.50 614.83,216.82 615.75,215.98 616.67,214.31 617.60,212.50 618.60,212.09 619.60,209.23 620.60,208.00 621.63,209.28 622.67,208.86 623.70,209.50 624.90,209.63 626.10,207.50 627.02,208.86 627.95,207.20 628.88,207.68 629.80,209.00 630.83,207.93 631.87,209.54 632.90,208.00 633.90,208.07 634.90,208.80 635.90,208.70 636.95,209.08 638.00,210.50 639.00,211.02 640.00,211.50 641.07,211.70 642.13,212.11 643.20,213.00 644.27,211.72 645.33,210.22 646.40,208.50 647.47,207.88 648.53,205.64 649.60,203.50 650.90,202.87 652.20,200.00 653.90,207.00 655.40,221.00 656.50,226.00 658.20,220.40 659.25,215.63 660.30,209.00 661.40,207.93 662.50,204.30 663.55,206.10 664.60,207.00 665.70,209.12 666.80,213.00 667.85,214.94 668.90,215.00 670.40,212.00 672.10,214.00 673.40,212.00" fill="none" stroke="#1f77b4" stroke-width="1.5" stroke-linejoin="round" />
<polyline points="528.40,221.40 529.50,216.00 530.30,211.60 531.10,215.30 532.40,210.40 533.30,212.80 534.80,207.90 536.00,211.60 537.60,205.50 538.90,204.20 540.10,207.90 541.90,209.70 543.10,212.80 544.40,220.20 546.00,230.00 547.30,236.00 548.80,218.00 550.00,204.00 551.10,198.70 552.20,202.16 553.30,207.00 554.23,210.87 555.17,216.53 556.10,221.70 557.90,224.40 558.90,221.87 559.90,220.01 560.90,219.50 561.83,218.47 562.75,219.04 563.67,217.96 564.60,216.40 565.52,215.71 566.45,212.93 567.38,212.37 568.30,210.90 569.30,209.32 570.30,208.05 571.30,207.90 572.33,207.88 573.37,209.16 574.40,210.90 575.70,211.31 577.00,209.50 578.00,210.02 579.00,209.63 580.00,208.50 581.00,210.11 582.00,209.37 583.00,211.00 584.00,210.17 585.00,210.66 586.00,210.00 587.00,210.10 588.00,209.92 589.00,208.50 590.00,208.99 591.00,206.43 592.00,207.00 593.00,206.78 594.00,206.45 595.00,205.50 596.00,204.52 597.00,203.50 598.30,209.00 599.30,228.00 600.70,250.00 602.00,236.00 603.50,219.00 604.50,216.66 605.50,216.00 607.20,214.80 609.00,219.50 610.80,226.50 612.50,224.00 613.90,221.00 614.83,219.93 615.75,217.93 616.67,219.13 617.60,217.00 618.60,216.62 619.60,214.46 620.60,213.00 621.63,212.81 622.67,214.73 623.70,214.00 624.90,213.44 626.10,212.50 627.02,213.49 627.95,213.40 628.88,212.52 629.80,212.50 630.83,211.44 631.87,211.09 632.90,210.00 633.90,210.15 634.90,209.79 635.90,211.00 636.95,211.49 638.00,213.00 639.00,214.06 640.00,213.50 641.07,212.48 642.13,212.65 643.20,214.00 644.27,212.33 645.33,209.43 646.40,208.00 647.47,206.26 648.53,204.26 649.60,202.50 650.90,199.59 652.20,197.50 653.90,206.00 655.40,222.00 656.50,227.00 658.20,219.50 659.25,215.04 660.30,208.00 661.40,204.21 662.50,202.00 663.55,203.02 664.60,204.50 665.70,206.48 666.80,210.00 667.85,211.59 668.90,212.50 670.40,210.00 672.10,213.00 673.40,211.00" fill="none" stroke="#ff7f0e" stroke-width="1.5" stroke-linejoin="round" />
<polyline points="528.40,223.80 529.70,218.30 530.70,220.20 531.90,215.90 532.70,217.70 534.00,213.40 534.80,215.30 536.40,209.10 537.60,205.50 538.55,202.62 539.50,199.30 540.70,193.80 541.60,189.00 542.30,188.60 543.20,192.00 544.20,202.00 545.10,218.00 545.80,240.00 546.50,282.00 547.30,250.00 548.10,228.00 548.80,218.00 550.00,204.00 550.90,200.60 551.70,199.90 552.60,202.00 553.30,207.00 554.25,212.94 555.20,218.00 556.20,222.03 557.20,225.00 558.50,221.00 560.30,215.20 561.20,215.10 562.10,213.40 563.35,212.88 564.60,211.50 565.60,211.66 566.60,209.45 567.60,209.70 568.63,209.84 569.67,210.90 570.70,210.30 571.62,210.27 572.55,210.42 573.48,208.70 574.40,209.10 575.70,208.74 577.00,208.50 578.00,208.21 579.00,208.91 580.00,209.00 581.00,209.47 582.00,208.79 583.00,210.00 584.00,209.29 585.00,209.60 586.00,208.87 587.00,209.68 588.00,208.60 589.00,208.68 590.00,207.80 591.00,206.65 592.00,207.27 593.00,206.20 594.00,204.95 595.00,205.00 596.00,203.91 597.00,202.40 598.30,206.00 599.30,225.00 600.70,253.00 602.00,240.00 603.50,219.50 604.50,217.33 605.50,216.50 607.20,215.50 609.00,220.00 610.80,226.20 612.50,223.00 613.90,219.50 614.85,217.60 615.80,217.50 616.70,217.02 617.60,215.20 618.60,213.24 619.60,211.82 620.60,210.90 621.63,212.17 622.67,212.37 623.70,212.10 624.90,210.82 626.10,210.30 627.02,211.28 627.95,210.67 628.88,211.07 629.80,210.90 630.83,209.34 631.87,209.63 632.90,207.80 633.90,208.78 634.90,209.91 635.90,209.70 636.95,211.61 638.00,212.10 639.00,212.19 640.00,213.00 641.07,213.75 642.13,214.40 643.20,216.00 644.27,213.23 645.33,210.95 646.40,209.60 647.47,206.74 648.53,204.79 649.60,202.10 650.90,197.81 652.20,195.30 653.90,205.30 655.40,222.50 656.50,228.90 658.20,221.40 659.25,214.77 660.30,207.50 661.40,203.46 662.50,200.00 663.55,201.26 664.60,203.20 665.70,207.52 666.80,210.70 667.85,211.22 668.90,211.80 670.40,208.50 672.10,211.80 673.40,208.50" fill="none" stroke="#2ca02c" stroke-width="1.5" stroke-linejoin="round" />
<rect x="528.1" y="171.1" width="146.0" height="116.1" fill="none" stroke="#000" stroke-width="1.5"/>
<line x1="521.1" y1="181.5" x2="528.1" y2="181.5" stroke="#000" stroke-width="1.3" />
<text x="501.67" y="185.25" font-family='"Liberation Sans", sans-serif' font-size="10.25" font-weight="bold" font-style="normal" fill="#000" text-anchor="start" textLength="15.03" lengthAdjust="spacing" stroke="#000" stroke-width="0.22">0.1</text>
<line x1="521.1" y1="216" x2="528.1" y2="216" stroke="#000" stroke-width="1.3" />
<text x="501.67" y="219.75" font-family='"Liberation Sans", sans-serif' font-size="10.25" font-weight="bold" font-style="normal" fill="#000" text-anchor="start" textLength="15.03" lengthAdjust="spacing" stroke="#000" stroke-width="0.22">0.0</text>
<line x1="521.1" y1="250.4" x2="528.1" y2="250.4" stroke="#000" stroke-width="1.3" />
<text x="495.35" y="254.15" font-family='"Liberation Sans", sans-serif' font-size="10.25" font-weight="bold" font-style="normal" fill="#000" text-anchor="start" textLength="21.35" lengthAdjust="spacing" stroke="#000" stroke-width="0.22">&#8722;0.1</text>
<line x1="521.1" y1="284.8" x2="528.1" y2="284.8" stroke="#000" stroke-width="1.3" />
<text x="495.35" y="288.55" font-family='"Liberation Sans", sans-serif' font-size="10.25" font-weight="bold" font-style="normal" fill="#000" text-anchor="start" textLength="21.35" lengthAdjust="spacing" stroke="#000" stroke-width="0.22">&#8722;0.2</text>
<line x1="548" y1="287.2" x2="548" y2="294.2" stroke="#000" stroke-width="1.3" />
<text x="537.48" y="305.2" font-family='"Liberation Sans", sans-serif' font-size="10.25" font-weight="bold" font-style="normal" fill="#000" text-anchor="start" textLength="21.05" lengthAdjust="spacing" stroke="#000" stroke-width="0.22">1.49</text>
<line x1="590.5" y1="287.2" x2="590.5" y2="294.2" stroke="#000" stroke-width="1.3" />
<text x="579.98" y="305.2" font-family='"Liberation Sans", sans-serif' font-size="10.25" font-weight="bold" font-style="normal" fill="#000" text-anchor="start" textLength="21.05" lengthAdjust="spacing" stroke="#000" stroke-width="0.22">1.50</text>
<line x1="632.3" y1="287.2" x2="632.3" y2="294.2" stroke="#000" stroke-width="1.3" />
<text x="621.78" y="305.2" font-family='"Liberation Sans", sans-serif' font-size="10.25" font-weight="bold" font-style="normal" fill="#000" text-anchor="start" textLength="21.05" lengthAdjust="spacing" stroke="#000" stroke-width="0.22">1.51</text>
<line x1="673.6" y1="287.2" x2="673.6" y2="294.2" stroke="#000" stroke-width="1.3" />
<text x="663.08" y="305.2" font-family='"Liberation Sans", sans-serif' font-size="10.25" font-weight="bold" font-style="normal" fill="#000" text-anchor="start" textLength="21.05" lengthAdjust="spacing" stroke="#000" stroke-width="0.22">1.52</text>
<text x="577.99" y="320.5" font-family='"Liberation Sans", sans-serif' font-size="12" font-weight="bold" font-style="normal" fill="#000" text-anchor="start" textLength="45.22" lengthAdjust="spacingAndGlyphs" stroke="#000" stroke-width="0.22">f (GHz)</text>
<rect x="606.1" y="234.6" width="63.6" height="47.5" rx="2" fill="#fff" fill-opacity="0.85" stroke="#d0d0d0" stroke-width="1"/>
<line x1="609.3" y1="242.1" x2="629.6" y2="242.1" stroke="#1f77b4" stroke-width="1.5" />
<text x="637.7" y="245.6" font-family='"Liberation Sans", sans-serif' font-size="9.8" font-weight="normal" font-style="normal" fill="#000" text-anchor="start" >|</text>
<text x="640.6" y="245.7" font-family='"Liberation Sans", sans-serif' font-size="11.8" font-weight="bold" font-style="normal" fill="#000" text-anchor="start" textLength="11.6" lengthAdjust="spacingAndGlyphs" >os</text>
<text x="653.7" y="247.0" font-family='"Liberation Sans", sans-serif' font-size="8" font-weight="bold" font-style="normal" fill="#000" text-anchor="start" textLength="7.8" lengthAdjust="spacingAndGlyphs" stroke="#000" stroke-width="0.25">31</text>
<text x="663.6" y="245.6" font-family='"Liberation Sans", sans-serif' font-size="9.8" font-weight="normal" font-style="normal" fill="#000" text-anchor="start" >|</text>
<line x1="609.3" y1="257.5" x2="629.6" y2="257.5" stroke="#ff7f0e" stroke-width="1.5" />
<text x="637.7" y="261.0" font-family='"Liberation Sans", sans-serif' font-size="9.8" font-weight="normal" font-style="normal" fill="#000" text-anchor="start" >|</text>
<text x="640.6" y="261.1" font-family='"Liberation Sans", sans-serif' font-size="11.8" font-weight="bold" font-style="normal" fill="#000" text-anchor="start" textLength="11.6" lengthAdjust="spacingAndGlyphs" >os</text>
<text x="653.7" y="262.4" font-family='"Liberation Sans", sans-serif' font-size="8" font-weight="bold" font-style="normal" fill="#000" text-anchor="start" textLength="7.8" lengthAdjust="spacingAndGlyphs" stroke="#000" stroke-width="0.25">21</text>
<text x="663.6" y="261.0" font-family='"Liberation Sans", sans-serif' font-size="9.8" font-weight="normal" font-style="normal" fill="#000" text-anchor="start" >|</text>
<line x1="609.3" y1="272.5" x2="629.6" y2="272.5" stroke="#2ca02c" stroke-width="1.5" />
<text x="637.7" y="276.0" font-family='"Liberation Sans", sans-serif' font-size="9.8" font-weight="normal" font-style="normal" fill="#000" text-anchor="start" >|</text>
<text x="640.6" y="276.1" font-family='"Liberation Sans", sans-serif' font-size="11.8" font-weight="bold" font-style="normal" fill="#000" text-anchor="start" textLength="11.6" lengthAdjust="spacingAndGlyphs" >os</text>
<text x="653.7" y="277.4" font-family='"Liberation Sans", sans-serif' font-size="8" font-weight="bold" font-style="normal" fill="#000" text-anchor="start" textLength="7.8" lengthAdjust="spacingAndGlyphs" stroke="#000" stroke-width="0.25">11</text>
<text x="663.6" y="276.0" font-family='"Liberation Sans", sans-serif' font-size="9.8" font-weight="normal" font-style="normal" fill="#000" text-anchor="start" >|</text>
<g transform="translate(486.6,226.3) rotate(-90) scale(1.14,1)">
<text x="0" y="0" font-family='"Liberation Sans", sans-serif' font-size="11.2" font-weight="bold" font-style="normal" fill="#000" text-anchor="middle" >10<tspan font-size="7" dy="-4.2" stroke="#000" stroke-width="0.35">2</tspan><tspan dy="4.2">|</tspan><tspan font-style="italic">os</tspan><tspan font-size="7" dy="1.6" font-style="italic" stroke="#000" stroke-width="0.3">i</tspan><tspan font-size="7" stroke="#000" stroke-width="0.3">1</tspan><tspan dy="-1.6">|</tspan></text>
</g>
</svg>
</body></html>
